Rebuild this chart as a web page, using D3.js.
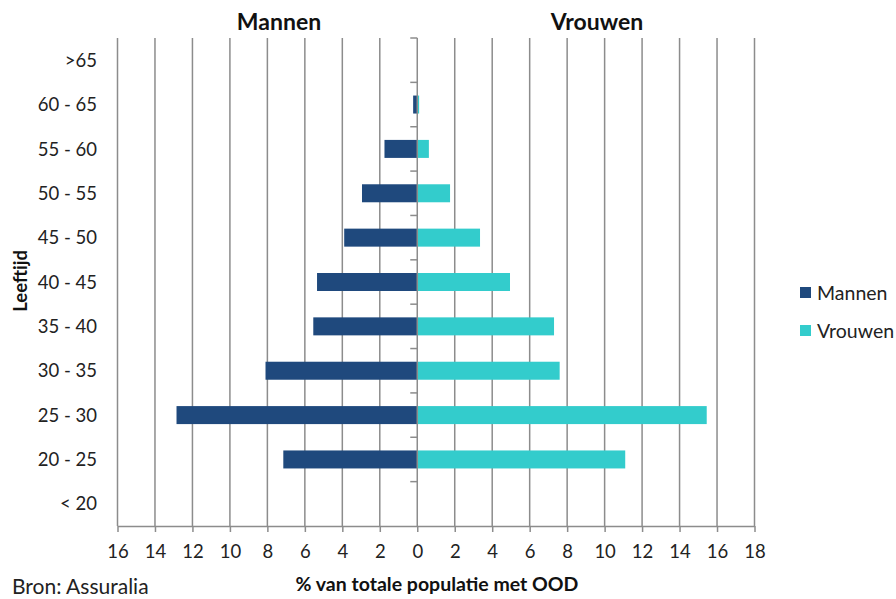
<!DOCTYPE html>
<html><head><meta charset="utf-8">
<script src="https://cdn.jsdelivr.net/npm/d3@7"></script>
<style>body{margin:0;background:#fff;} svg{display:block;} text{font-family:Lato,"Open Sans",sans-serif;}</style>
</head><body>
<svg id="c" width="896" height="599"></svg>
<script>
const categories = ["< 20","20 - 25","25 - 30","30 - 35","35 - 40","40 - 45","45 - 50","50 - 55","55 - 60","60 - 65",">65"];
const mannen = [0, 7.15, 12.85, 8.1, 5.55, 5.35, 3.9, 2.95, 1.75, 0.22, 0];
const vrouwen = [0, 11.1, 15.45, 7.6, 7.3, 4.95, 3.35, 1.75, 0.62, 0.1, 0];
const xTicks = [-16,-14,-12,-10,-8,-6,-4,-2,0,2,4,6,8,10,12,14,16,18];
const seriesNames = ["Mannen","Vrouwen"];
const colors = ["#1F497D","#33CCCC"];

const svg = d3.select("#c");
const L = 117.5, R = 754.5, T = 38, B = 526;
const x = d3.scaleLinear().domain([-16,18]).range([L,R]);
const y = d3.scaleBand().domain(categories.slice().reverse()).range([T,B]).paddingInner(0).paddingOuter(0);
const grid = "#8c8c8c";

// gridlines
svg.append("g").selectAll("line").data(xTicks.filter(d=>d!==0)).join("line")
  .attr("x1",d=>x(d)).attr("x2",d=>x(d)).attr("y1",T).attr("y2",B)
  .attr("stroke",grid).attr("stroke-width",1.5);

// bars
const bh = 18;
const g = svg.append("g");
g.selectAll("rect.m").data(categories.map((c,i)=>({c,v:mannen[i]}))).join("rect")
  .attr("x",d=>x(-d.v)).attr("width",d=>x(0)-x(-d.v))
  .attr("y",d=>y(d.c)+y.bandwidth()/2-bh/2).attr("height",bh).attr("fill",colors[0]);
g.selectAll("rect.v").data(categories.map((c,i)=>({c,v:vrouwen[i]}))).join("rect")
  .attr("x",x(0)).attr("width",d=>x(d.v)-x(0))
  .attr("y",d=>y(d.c)+y.bandwidth()/2-bh/2).attr("height",bh).attr("fill",colors[1]);

// x axis
const xa = svg.append("g").attr("transform",`translate(0,${B})`)
  .call(d3.axisBottom(x).tickValues(xTicks).tickSize(6).tickSizeOuter(0).tickFormat(d=>Math.abs(d)));
xa.select(".domain").attr("stroke",grid).attr("stroke-width",1.5);
xa.selectAll(".tick line").attr("stroke",grid).attr("stroke-width",1.5);
xa.selectAll(".tick text").attr("font-size",18.5).attr("fill","#222").attr("y",0).attr("dy","1.75em").style("font-family","Lato, sans-serif");

// y axis at zero (ticks at band boundaries)
const bounds = d3.range(categories.length+1).map(i=>T+i*y.step());
svg.append("line").attr("x1",x(0)).attr("x2",x(0)).attr("y1",T).attr("y2",B).attr("stroke",grid).attr("stroke-width",1.5);
svg.append("g").selectAll("line").data(bounds.slice(0,-1)).join("line")
  .attr("x1",x(0)-7).attr("x2",x(0)).attr("y1",d=>d).attr("y2",d=>d).attr("stroke",grid).attr("stroke-width",1.5);

// y labels
svg.append("g").selectAll("text").data(categories).join("text")
  .attr("x",97).attr("y",d=>y(d)+y.bandwidth()/2).attr("dy","0.36em")
  .attr("text-anchor","end").attr("font-size",18.5).attr("fill","#222").text(d=>d);

// titles
svg.append("text").attr("x",279).attr("y",30).attr("text-anchor","middle").attr("font-size",23).attr("font-weight","bold").attr("fill","#111").text("Mannen");
svg.append("text").attr("x",597).attr("y",30).attr("text-anchor","middle").attr("font-size",23).attr("font-weight","bold").attr("fill","#111").text("Vrouwen");
svg.append("text").attr("transform","translate(27,281) rotate(-90)").attr("text-anchor","middle").attr("font-size",18.5).attr("font-weight","bold").attr("fill","#111").text("Leeftijd");
svg.append("text").attr("x",437).attr("y",591).attr("text-anchor","middle").attr("font-size",19.5).attr("font-weight","bold").attr("fill","#111").text("% van totale populatie met OOD");
svg.append("text").attr("x",12).attr("y",594).attr("font-size",21).attr("fill","#222").text("Bron: Assuralia");

// legend
const lg = svg.append("g").selectAll("g").data(seriesNames).join("g")
  .attr("transform",(d,i)=>`translate(800,${287+i*38})`);
lg.append("rect").attr("width",11).attr("height",11).attr("fill",(d,i)=>colors[i]);
lg.append("text").attr("x",17).attr("y",5.5).attr("dy","0.36em").attr("font-size",19.5).attr("fill","#222").text(d=>d);
</script>
</body></html>
